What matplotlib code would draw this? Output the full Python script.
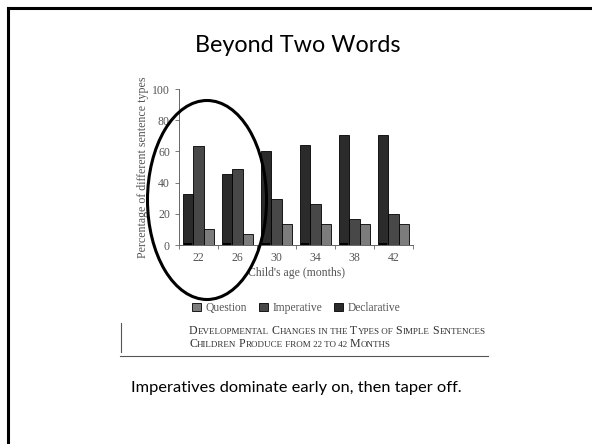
import matplotlib
matplotlib.use("Agg")
import matplotlib.pyplot as plt
import numpy as np
from matplotlib.patches import Ellipse, Patch
from matplotlib.offsetbox import TextArea, HPacker, VPacker, AnchoredOffsetbox

ages = ["22", "26", "30", "34", "38", "42"]
declarative = [32.5, 45.3, 60.5, 64, 70.3, 70.3]
imperative = [63.7, 48.7, 29.3, 26, 16.9, 19.7]
question = [10, 7, 13.5, 13.5, 13.5, 13.5]
base = [1, 1, 1, 1, 1, 1]

serif = "Liberation Serif"
grey_txt = "#555555"

fig = plt.figure(figsize=(5.92, 4.44), dpi=100)

# slide border (top and left only)
fig.add_artist(plt.Line2D([8 / 592, 1], [1 - 8 / 444] * 2, color="black", lw=2.2))
fig.add_artist(plt.Line2D([8 / 592] * 2, [0, 1 - 8 / 444], color="black", lw=2.2))

fig.text(0.503, 1 - 45 / 444, "Beyond Two Words", ha="center", va="center",
         fontsize=16.8, family="Lato")

ax = fig.add_axes([179 / 592, 1 - 245 / 444, 234 / 592, 156 / 444])
x = np.arange(len(ages)) + 0.5
w = 0.26
ax.bar(x - w, declarative, w, color="#2b2b2b", edgecolor="black", lw=0.6)
ax.bar(x, imperative, w, color="#484848", edgecolor="black", lw=0.6)
ax.bar(x + w, question, w, color="#7c7c7c", edgecolor="black", lw=0.6)
ax.bar(x - w, base, w * 0.8, color="black", lw=0)

ax.set_xlim(0, 6)
ax.set_ylim(0, 100)
ax.set_yticks([0, 20, 40, 60, 80, 100])
ax.set_xticks(np.arange(7))
ax.set_xticklabels([])
ax.set_xticks(x, minor=True)
ax.set_xticklabels(ages, minor=True)
ax.tick_params(axis="x", which="minor", length=0, pad=5)
ax.tick_params(axis="both", which="major", length=3, width=0.6, color="#666666")
for lab in ax.get_xticklabels(minor=True) + ax.get_yticklabels():
    lab.set_family(serif)
    lab.set_fontsize(8.5)
    lab.set_color(grey_txt)
for s in ["top", "right"]:
    ax.spines[s].set_visible(False)
for s in ["left", "bottom"]:
    ax.spines[s].set_color("#666666")
    ax.spines[s].set_linewidth(0.7)
ax.set_xlabel("Child's age (months)", family=serif, fontsize=8.5, color=grey_txt, labelpad=2)
ax.set_ylabel("Percentage of different sentence types", family=serif, fontsize=8.6,
              color=grey_txt, labelpad=2)

handles = [Patch(facecolor="#7c7c7c", edgecolor="black", lw=0.6),
           Patch(facecolor="#484848", edgecolor="black", lw=0.6),
           Patch(facecolor="#2b2b2b", edgecolor="black", lw=0.6)]
fig.legend(handles, ["Question", "Imperative", "Declarative"], ncol=3, frameon=False,
           loc="center", bbox_to_anchor=(0.5, 1 - 308 / 444),
           prop={"family": serif, "size": 8.3}, handlelength=0.8, handleheight=0.8,
           handletextpad=0.4, columnspacing=1.0, labelcolor=grey_txt)

# small caps caption
def smallcaps(line):
    big = dict(family=serif, size=8.6, color="#333333")
    small = dict(family=serif, size=6.5, color="#333333")
    parts = []
    for i, word in enumerate(line.split(" ")):
        lead = "" if i == 0 else " "
        if word[0].isupper():
            parts.append(TextArea(lead + word[0], textprops=big))
            rest = word[1:].upper()
        else:
            rest = (lead + word).upper()
        if rest:
            parts.append(TextArea(rest, textprops=small))
    return HPacker(children=parts, sep=0, pad=0, align="baseline")

cap = VPacker(children=[smallcaps("Developmental Changes in the Types of Simple Sentences"),
                        smallcaps("Children Produce from 22 to 42 Months")],
              sep=1, pad=0, align="left")
fig.add_artist(AnchoredOffsetbox(loc="upper left", child=cap, frameon=False, pad=0,
                                 bbox_to_anchor=(189 / 592, 1 - 325 / 444),
                                 bbox_transform=fig.transFigure, borderpad=0))
fig.add_artist(plt.Line2D([121 / 592] * 2, [1 - 323 / 444, 1 - 352 / 444], color="#555555", lw=0.8))
fig.add_artist(plt.Line2D([120 / 592, 488 / 592], [1 - 356 / 444] * 2, color="#555555", lw=0.8))

# hand-drawn ellipse
fig.add_artist(Ellipse((207 / 100, (444 - 200) / 100), 1.19, 1.99, fill=False,
                       edgecolor="black", lw=2.2, transform=fig.dpi_scale_trans))

fig.text(0.5, 1 - 388 / 444, "Imperatives dominate early on, then taper off.",
         ha="center", va="center", fontsize=11.8, family="Lato")

fig.savefig("out.png", dpi=100)
